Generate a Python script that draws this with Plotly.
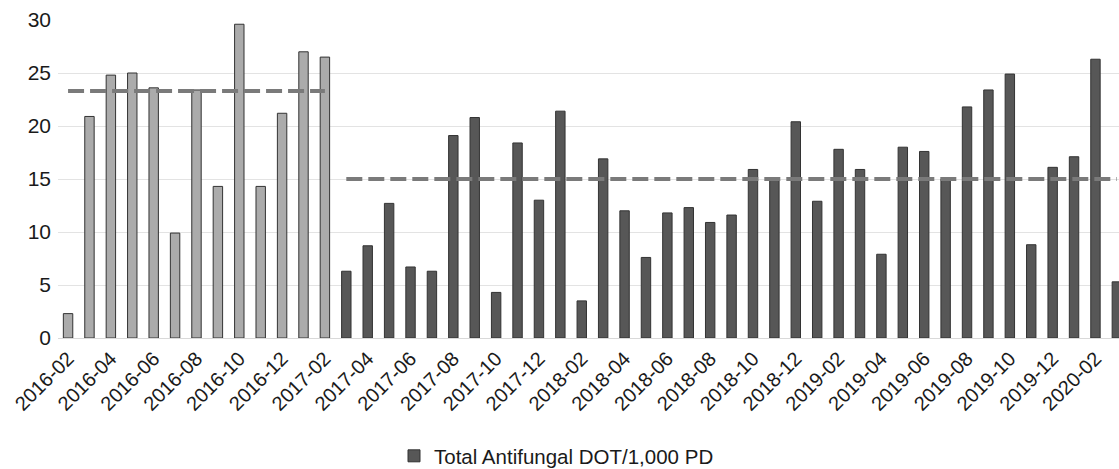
import plotly.graph_objects as go

months = [f"{y}-{m:02d}" for y in range(2016, 2021) for m in range(1, 13)]
months = months[months.index("2016-02"):months.index("2020-03") + 1]

pre_months = months[:13]
post_months = months[13:]

pre_values = [2.3, 20.9, 24.8, 25.0, 23.6, 9.9, 23.4, 14.3, 29.6, 14.3, 21.2, 27.0, 26.5]
post_values = [6.3, 8.7, 12.7, 6.7, 6.3, 19.1, 20.8, 4.3, 18.4, 13.0,
               21.4, 3.5, 16.9, 12.0, 7.6, 11.8, 12.3, 10.9, 11.6, 15.9,
               15.1, 20.4, 12.9, 17.8, 15.9, 7.9, 18.0, 17.6, 15.0, 21.8,
               23.4, 24.9, 8.8, 16.1, 17.1, 26.3, 5.3]

pre_median = 23.3
post_median = 15.0

tick_labels = months[::2]

fig = go.Figure()
fig.add_trace(go.Bar(
    x=pre_months, y=pre_values, width=0.44, showlegend=False,
    marker=dict(color="#ababab", line=dict(color="#333333", width=1)),
))
fig.add_trace(go.Bar(
    x=post_months, y=post_values, width=0.44, name="Total Antifungal DOT/1,000 PD",
    marker=dict(color="#575757", line=dict(color="#333333", width=1)),
))
fig.add_trace(go.Scatter(
    x=pre_months, y=[pre_median] * len(pre_months), mode="lines", showlegend=False,
    line=dict(color="#7a7a7a", width=4, dash="16px,6px"), hoverinfo="skip",
))
fig.add_trace(go.Scatter(
    x=post_months, y=[post_median] * len(post_months), mode="lines", showlegend=False,
    line=dict(color="#7a7a7a", width=4, dash="16px,6px"), hoverinfo="skip",
))

fig.update_layout(
    width=1119, height=469,
    margin=dict(l=58, r=0, t=20, b=131, autoexpand=False),
    paper_bgcolor="white", plot_bgcolor="white",
    barmode="overlay",
    font=dict(family="Liberation Sans, Arial, sans-serif", color="#1a1a1a"),
    showlegend=True,
    legend=dict(orientation="h", x=(394 - 58) / 1061, xanchor="left", y=(338 - 456) / 318,
                yanchor="middle", font=dict(size=20.5), itemwidth=30,
                bgcolor="rgba(0,0,0,0)"),
)
fig.update_xaxes(
    type="category", categoryorder="array", categoryarray=months,
    range=[-0.47, 49.1], tickmode="array", tickvals=tick_labels, ticktext=tick_labels,
    tickangle=-45, tickfont=dict(size=20), showgrid=False, automargin=False,
    showline=True, linecolor="#d9d9d9", linewidth=1, ticks="", zeroline=False,
)
fig.update_yaxes(
    range=[0, 30], dtick=5, tickfont=dict(size=21), showgrid=True, automargin=False,
    gridcolor="#e3e3e3", gridwidth=1, zeroline=False, showline=False, ticks="",
    ticklabelstandoff=6,
)

fig.write_html("out.html", config={"displayModeBar": False},
               post_script="document.body.style.margin='0';")
